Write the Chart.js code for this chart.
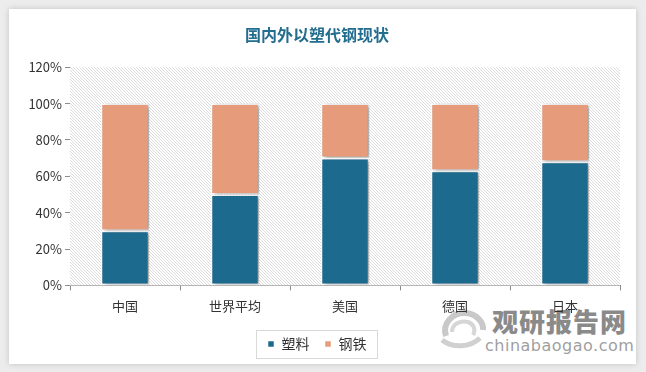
<!DOCTYPE html>
<html><head><meta charset="utf-8">
<script src="https://cdn.jsdelivr.net/npm/chart.js@4/dist/chart.umd.min.js"></script>
<style>
html,body{margin:0;padding:0;width:646px;height:372px;background:#ececec;overflow:hidden;font-family:"Noto Sans CJK SC",sans-serif;}
#card{position:absolute;left:9px;top:9px;width:627px;height:355px;background:#fff;box-shadow:0 0 6px rgba(0,0,0,0.18);}
#wrap{position:absolute;left:0;top:0;width:646px;height:372px;}
#wm{position:absolute;left:485px;top:306px;width:142px;color:#9a9a9a;text-align:right;}
#wm .a{font-size:26px;font-weight:900;letter-spacing:1px;line-height:30px;color:#8a8a8a;}
#wm .b{font-size:16px;line-height:20px;font-family:"DejaVu Sans",sans-serif;letter-spacing:0.5px;color:#9f9f9f;}
#logo{position:absolute;left:438px;top:306px;width:50px;height:44px;}
</style></head>
<body>
<div id="card"></div>
<svg id="logo" viewBox="0 0 50 44"><path d="M8 30 C4 18 14 6 28 7 C38 8 46 16 45 24" fill="none" stroke="#c9c9c9" stroke-width="6"/><path d="M14 26 C14 18 22 14 30 16 C36 18 38 24 35 29" fill="none" stroke="#d6d6d6" stroke-width="4"/><path d="M4 34 C14 42 32 42 42 32" fill="none" stroke="#d0d0d0" stroke-width="5"/></svg>
<div id="wm"><div class="a">观研报告网</div><div class="b">chinabaogao.com</div></div>
<div id="wrap"><canvas id="c" width="646" height="372"></canvas></div>
<script>
const categories = ["中国", "世界平均", "美国", "德国", "日本"];
const plasticShare = [0.30, 0.50, 0.70, 0.63, 0.68];
const steelShare = [0.70, 0.50, 0.30, 0.37, 0.32];
const seriesNames = ["塑料", "钢铁"];
const yTicks = [0, 0.2, 0.4, 0.6, 0.8, 1.0, 1.2];

function makePattern(){
  const p = document.createElement('canvas');
  p.width = 3; p.height = 3;
  const g = p.getContext('2d');
  g.fillStyle = '#ffffff'; g.fillRect(0,0,3,3);
  g.fillStyle = '#dcdcdc';
  for(let i=0;i<3;i++){ g.fillRect(i,i,1,1); }
  return g.createPattern(p,'repeat');
}

const bgPlugin = {
  id:'bg',
  beforeDatasetsDraw(chart){
    const {ctx, chartArea:a} = chart;
    ctx.save();
    ctx.fillStyle = makePattern();
    ctx.fillRect(a.left, a.top, a.right-a.left, a.bottom-a.top);
    ctx.restore();
    ctx.save();
    ctx.shadowColor = 'rgba(0,0,0,0.35)';
    ctx.shadowBlur = 4;
    ctx.shadowOffsetX = 3;
    ctx.shadowOffsetY = 1;
  },
  afterDatasetsDraw(chart){ chart.ctx.restore(); },
  afterDraw(chart){
    const lg = chart.legend;
    if(!lg || !lg.legendHitBoxes.length) return;
    const hb = lg.legendHitBoxes;
    const x0 = hb[0].left - 12, x1 = hb[hb.length-1].left + hb[hb.length-1].width + 10;
    const y0 = hb[0].top - 7, y1 = hb[0].top + hb[0].height + 7;
    const ctx = chart.ctx;
    ctx.save();
    ctx.strokeStyle = '#d9d9d9'; ctx.lineWidth = 1;
    ctx.strokeRect(Math.round(x0)+0.5, Math.round(y0)+0.5, Math.round(x1-x0), Math.round(y1-y0));
    ctx.restore();
  }
};

new Chart(document.getElementById('c'), {
  type:'bar',
  data:{
    labels: categories,
    datasets:[
      {label: seriesNames[0], data: plasticShare, backgroundColor:'#1c6a8e', borderColor:'#ffffff', borderWidth:1.5, borderSkipped:false},
      {label: seriesNames[1], data: steelShare, backgroundColor:'#e69b7b', borderColor:'#ffffff', borderWidth:1.5, borderSkipped:false}
    ]
  },
  options:{
    responsive:false, animation:false,
    layout:{padding:{left:14, right:26, top:8, bottom:11}},
    datasets:{bar:{categoryPercentage:1, barPercentage:0.44}},
    scales:{
      x:{stacked:true,
        grid:{offset:true, drawOnChartArea:false, tickLength:5, color:'#8c8c8c'},
        border:{color:'#8c8c8c'},
        ticks:{color:'#333', font:{size:13, family:'"Noto Sans CJK SC"'}, padding:8}
      },
      y:{stacked:true, min:0, max:1.2,
        afterBuildTicks(s){ s.ticks = yTicks.map(v=>({value:v})); },
        afterFit(s){ s.width = 56; },
        grid:{drawOnChartArea:false, tickLength:5, color:'#8c8c8c'},
        border:{color:'#8c8c8c'},
        ticks:{color:'#333', font:{size:13, family:'"Noto Sans CJK SC"'}, padding:3,
          callback:v=>Math.round(v*100)+'%'}
      }
    },
    plugins:{
      title:{display:true, text:'国内外以塑代钢现状', color:'#236d8f',
        font:{size:16, weight:'bold', family:'"Noto Sans CJK SC"'}, padding:{top:17, bottom:23}},
      legend:{position:'bottom',
        labels:{boxWidth:7, boxHeight:7, color:'#333', padding:15, font:{size:14, family:'"Noto Sans CJK SC"'}}},
      tooltip:{enabled:false}
    }
  },
  plugins:[bgPlugin]
});
</script>
</body></html>
